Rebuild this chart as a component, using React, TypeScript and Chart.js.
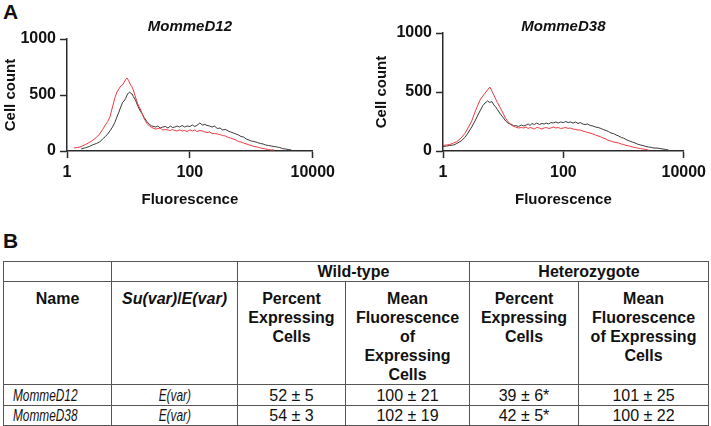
import React, { useEffect, useRef } from "react";
import { Chart, registerables } from "chart.js";

Chart.register(...registerables);

// ---------- Panel A data ----------
const d12Fluorescence = [
  1.3, 1.5, 1.7, 2, 2.3, 2.6, 3, 3.4, 3.8, 4.2,
  4.6, 5, 5.5, 6, 6.5, 7, 7.5, 8, 8.5, 9,
  9.5, 10, 10.5, 11, 11.5, 12, 13, 14, 15, 16,
  17, 18, 20, 22, 24, 26, 28, 30, 33, 36,
  40, 44, 48, 52, 57, 62, 68, 75, 82, 90,
  100, 110, 120, 130, 145, 160, 175, 190, 210, 230,
  250, 280, 310, 340, 380, 420, 460, 510, 560, 620,
  680, 750, 830, 920, 1000, 1100, 1250, 1400, 1550, 1700,
  1900, 2100, 2350, 2600, 2900, 3200, 3600, 4000, 4500,
];
const d12WildType = [
  null, null, 18, 29, 40, 54, 67, 80, 107, 129,
  152, 179, 214, 254, 304, 348, 393, 433, 447, 469,
  500, 518, 527, 513, 509, 487, 455, 411, 375, 348,
  326, 299, 263, 237, 223, 219, 214, 223, 205, 214,
  219, 205, 223, 210, 214, 223, 214, 228, 214, 223,
  219, 232, 219, 228, 250, 232, 237, 228, 223, 214,
  223, 201, 205, 188, 192, 179, 170, 161, 152, 143,
  129, 125, 107, 98, 89, 85, 76, 67, 63, 54,
  49, 45, 40, 36, 31, 22, 18, 13, 9,
];
const d12Heterozygote = [
  27, 31, 40, 58, 76, 94, 121, 152, 192, 232,
  263, 304, 393, 473, 527, 554, 580, 589, 612, 638,
  652, 630, 607, 585, 571, 545, 482, 429, 393, 362,
  321, 290, 246, 223, 210, 201, 196, 201, 205, 188,
  192, 188, 183, 192, 183, 179, 188, 179, 183, 174,
  188, 179, 188, 174, 183, 179, 170, 165, 170, 156,
  156, 152, 147, 138, 134, 121, 116, 107, 98, 85,
  80, 71, 63, 54, 49, 40, 36, 27, 22, 18,
  13, 9, 9, null, null, null, null, null, null,
];

const d38Fluorescence = [
  1, 1.15, 1.3, 1.5, 1.7, 2, 2.3, 2.6, 3, 3.4,
  3.8, 4.2, 4.6, 5, 5.5, 6, 6.5, 7, 7.5, 8,
  9, 10, 11, 12, 13, 14, 15, 16, 18, 20,
  22, 24, 26, 28, 30, 33, 36, 40, 44, 48,
  52, 57, 62, 68, 75, 82, 90, 100, 110, 120,
  130, 145, 160, 175, 190, 210, 230, 250, 280, 310,
  340, 380, 420, 460, 510, 560, 620, 680, 750, 830,
  920, 1000, 1100, 1250, 1400, 1550, 1700, 1900, 2100, 2350,
  2600, 2900, 3200, 3600, 4000, 4500, 5000, 5600,
];
const d38WildType = [
  38, 42, 47, 51, 64, 85, 114, 152, 203, 254,
  305, 347, 385, 407, 424, 411, 419, 390, 373, 352,
  313, 284, 254, 237, 229, 224, 212, 216, 208, 220,
  212, 220, 229, 216, 233, 224, 237, 224, 233, 229,
  237, 229, 241, 237, 246, 237, 246, 241, 250, 241,
  246, 237, 246, 233, 241, 229, 224, 229, 216, 212,
  203, 199, 191, 182, 174, 165, 152, 148, 136, 127,
  114, 110, 97, 85, 76, 68, 59, 51, 47, 38,
  34, 30, 25, 25, 21, 17, 13, 8,
];
const d38Heterozygote = [
  47, 51, 55, 68, 80, 110, 148, 195, 254, 330,
  390, 440, 466, 491, 517, 542, 508, 474, 440, 411,
  364, 318, 275, 250, 229, 216, 208, 203, 195, 199,
  195, 203, 191, 199, 195, 186, 199, 195, 186, 195,
  199, 191, 195, 203, 195, 199, 191, 195, 199, 191,
  195, 186, 182, 178, 178, 169, 165, 157, 152, 144,
  136, 127, 119, 110, 102, 89, 85, 76, 72, 68,
  59, 55, 47, 42, 34, 30, 25, 21, 17, 13,
  8, null, null, null, null, null, null, null,
];

const xTickValues = [1, 100, 10000];
const yTickValues = [0, 500, 1000];

// ---------- Panel B data ----------
const tableNames = ["MommeD12", "MommeD38"];
const tableClass = ["E(var)", "E(var)"];
const wtPercent = ["52 ± 5", "54 ± 3"];
const wtMean = ["100 ± 21", "102 ± 19"];
const hetPercent = ["39 ± 6*", "42 ± 5*"];
const hetMean = ["101 ± 25", "100 ± 22"];

const FONT = '"Liberation Sans", Arial, Helvetica, sans-serif';
const RED = "#ec3a40";
const DARK = "#3a3a3a";
const AXIS = "#2a2a2a";

Chart.defaults.font.family = FONT;

type HistProps = {
  left: number;
  width: number;
  height: number;
  padLeft: number;
  padRight: number;
  yWidth: number;
  titleTop: number;
  titleBottom: number;
  title: string;
  fluor: number[];
  wild: (number | null)[];
  het: (number | null)[];
};

function Histogram(p: HistProps) {
  const ref = useRef<HTMLCanvasElement | null>(null);
  useEffect(() => {
    if (!ref.current) return;
    const toPoints = (ys: (number | null)[]) =>
      p.fluor.map((x, i) => ({ x, y: ys[i] }));
    const tickFont = { size: 16, weight: "bold" as const };
    const chart = new Chart(ref.current, {
      type: "line",
      data: {
        datasets: [
          {
            data: toPoints(p.het) as any,
            borderColor: RED,
            borderWidth: 1,
            pointRadius: 0,
            tension: 0,
            fill: false,
          },
          {
            data: toPoints(p.wild) as any,
            borderColor: DARK,
            borderWidth: 1,
            pointRadius: 0,
            tension: 0,
            fill: false,
          },
        ],
      },
      options: {
        animation: false,
        responsive: false,
        maintainAspectRatio: false,
        layout: {
          padding: { left: p.padLeft, right: p.padRight, top: 0, bottom: 2 },
        },
        plugins: {
          legend: { display: false },
          tooltip: { enabled: false },
          title: {
            display: true,
            text: p.title,
            fullSize: false,
            color: "#111",
            font: { size: 15, weight: "bold", style: "italic", lineHeight: 0.8 },
            padding: { top: p.titleTop, bottom: p.titleBottom },
          },
        },
        scales: {
          x: {
            type: "logarithmic",
            min: 1,
            max: 10000,
            afterBuildTicks: (s: any) => {
              s.ticks = xTickValues.map((v) => ({ value: v }));
            },
            afterFit: (s: any) => {
              s.height = p.height - 2 - 151;
            },
            ticks: {
              autoSkip: false,
              maxRotation: 0,
              padding: 5,
              color: "#111",
              font: tickFont,
              callback: (v: any) => String(v),
            },
            grid: {
              drawOnChartArea: false,
              drawTicks: true,
              tickLength: 7,
              tickWidth: 1.5,
              tickColor: AXIS,
            },
            border: { display: true, color: AXIS, width: 1.5 },
            title: {
              display: true,
              text: "Fluorescence",
              color: "#111",
              font: { size: 15, weight: "bold" },
              padding: { top: 4, bottom: 4 },
            },
          },
          y: {
            min: 0,
            max: 1000,
            afterBuildTicks: (s: any) => {
              s.ticks = yTickValues.map((v) => ({ value: v }));
            },
            afterFit: (s: any) => {
              s.width = p.yWidth;
            },
            ticks: {
              padding: 4,
              color: "#111",
              font: tickFont,
              callback: (v: any) => String(v),
            },
            grid: {
              drawOnChartArea: false,
              drawTicks: true,
              tickLength: 7,
              tickWidth: 1.5,
              tickColor: AXIS,
            },
            border: { display: true, color: AXIS, width: 1.5 },
            title: {
              display: true,
              text: "Cell count",
              color: "#111",
              font: { size: 15, weight: "bold" },
              padding: { top: 2, bottom: 4 },
            },
          },
        },
      },
    });
    return () => chart.destroy();
  }, []);
  return (
    <canvas
      ref={ref}
      width={p.width}
      height={p.height}
      style={{
        position: "absolute",
        left: p.left,
        top: 0,
        width: p.width,
        height: p.height,
      }}
    />
  );
}

const border = "1px solid #555";

const th: React.CSSProperties = {
  border,
  padding: 0,
  textAlign: "center",
  fontWeight: "bold",
  fontSize: 16,
  lineHeight: "19px",
  verticalAlign: "middle",
};
const thTop: React.CSSProperties = {
  ...th,
  verticalAlign: "top",
  paddingTop: 7,
};
const td: React.CSSProperties = {
  border,
  padding: 0,
  textAlign: "center",
  fontWeight: "normal",
  fontSize: 16,
  lineHeight: "19px",
  verticalAlign: "middle",
};
const narrow = (origin: string): React.CSSProperties => ({
  display: "inline-block",
  fontStyle: "italic",
  transform: "scaleX(0.74)",
  transformOrigin: origin,
  whiteSpace: "nowrap",
});

export default function App() {
  return (
    <div
      style={{
        position: "fixed",
        left: 0,
        top: 0,
        width: 711,
        height: 426,
        background: "#fff",
        fontFamily: FONT,
        color: "#111",
        overflow: "hidden",
      }}
    >
      <div
        style={{
          position: "absolute",
          left: 3,
          top: 0,
          fontSize: 21,
          fontWeight: "bold",
          lineHeight: "24px",
        }}
      >
        A
      </div>
      <Histogram
        left={0}
        width={340}
        height={215}
        padLeft={0}
        padRight={24}
        yWidth={67}
        titleTop={21}
        titleBottom={6}
        title="MommeD12"
        fluor={d12Fluorescence}
        wild={d12WildType}
        het={d12Heterozygote}
      />
      <Histogram
        left={340}
        width={371}
        height={215}
        padLeft={31}
        padRight={23}
        yWidth={72}
        titleTop={21}
        titleBottom={0}
        title="MommeD38"
        fluor={d38Fluorescence}
        wild={d38WildType}
        het={d38Heterozygote}
      />
      <div
        style={{
          position: "absolute",
          left: 3,
          top: 229,
          fontSize: 21,
          fontWeight: "bold",
          lineHeight: "24px",
        }}
      >
        B
      </div>
      <table
        style={{
          position: "absolute",
          left: 3,
          top: 261,
          width: 705,
          borderCollapse: "collapse",
          tableLayout: "fixed",
          border: "1.5px solid #444",
          fontFamily: FONT,
          color: "#111",
        }}
      >
        <colgroup>
          <col style={{ width: 108 }} />
          <col style={{ width: 126 }} />
          <col style={{ width: 108 }} />
          <col style={{ width: 124 }} />
          <col style={{ width: 109 }} />
          <col style={{ width: 130 }} />
        </colgroup>
        <tbody>
          <tr style={{ height: 20 }}>
            <th style={th}></th>
            <th style={th}></th>
            <th style={th} colSpan={2}>
              Wild-type
            </th>
            <th style={th} colSpan={2}>
              Heterozygote
            </th>
          </tr>
          <tr style={{ height: 102 }}>
            <th style={thTop}>Name</th>
            <th style={thTop}>
              <i>Su(var)</i>/<i>E(var)</i>
            </th>
            <th style={thTop}>
              Percent
              <br />
              Expressing
              <br />
              Cells
            </th>
            <th style={thTop}>
              Mean
              <br />
              Fluorescence
              <br />
              of
              <br />
              Expressing
              <br />
              Cells
            </th>
            <th style={thTop}>
              Percent
              <br />
              Expressing
              <br />
              Cells
            </th>
            <th style={thTop}>
              Mean
              <br />
              Fluorescence
              <br />
              of Expressing
              <br />
              Cells
            </th>
          </tr>
          {tableNames.map((name, i) => (
            <tr key={name} style={{ height: i === 0 ? 21 : 19 }}>
              <td style={{ ...td, textAlign: "left", paddingLeft: 9 }}>
                <span style={narrow("left center")}>{name}</span>
              </td>
              <td style={td}>
                <span style={narrow("center center")}>{tableClass[i]}</span>
              </td>
              <td style={td}>{wtPercent[i]}</td>
              <td style={td}>{wtMean[i]}</td>
              <td style={td}>{hetPercent[i]}</td>
              <td style={td}>{hetMean[i]}</td>
            </tr>
          ))}
        </tbody>
      </table>
    </div>
  );
}
